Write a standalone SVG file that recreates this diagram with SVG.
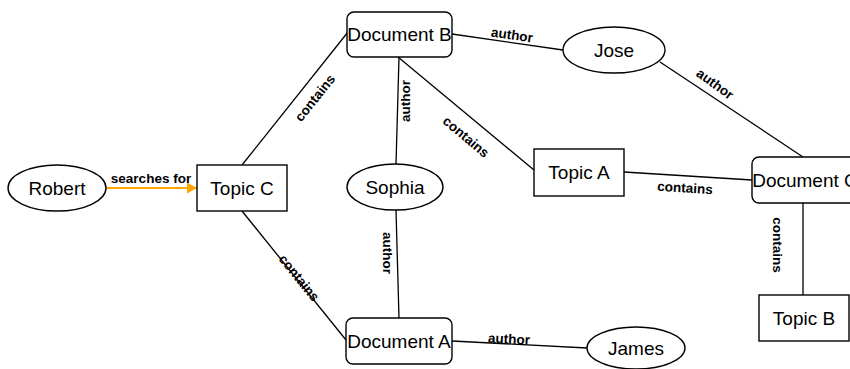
<svg xmlns="http://www.w3.org/2000/svg" width="850" height="369" viewBox="0 0 850 369">
<style>
.n{fill:#fff;stroke:#000;stroke-width:1.4}
.t{font-family:"Liberation Sans",Arial,sans-serif;font-size:19px;fill:#000;text-anchor:middle;dominant-baseline:central}
.e{stroke:#000;stroke-width:1.3;fill:none}
.l{font-family:"Liberation Sans",Arial,sans-serif;font-size:13.5px;font-weight:bold;fill:#000;text-anchor:middle;dominant-baseline:central}
</style>
<defs>
<marker id="ah" markerWidth="10" markerHeight="11" refX="10" refY="5.5" orient="auto" markerUnits="userSpaceOnUse">
<path d="M0,0 L10,5.5 L0,11 Z" fill="#FFA500"/>
</marker>
</defs>
<g id="connectors">
<line class="e" x1="106" y1="188" x2="197" y2="188" style="stroke:#FFA500;stroke-width:2" marker-end="url(#ah)"/>
<text class="l" x="151" y="178">searches for</text>
<line class="e" x1="242" y1="165" x2="348" y2="32"/>
<text class="l" transform="translate(315,98) rotate(-51.5)">contains</text>
<line class="e" x1="242" y1="211" x2="346" y2="340"/>
<text class="l" transform="translate(299,278) rotate(51)">contains</text>
<line class="e" x1="452" y1="34" x2="563" y2="50"/>
<text class="l" transform="translate(512,35) rotate(8)">author</text>
<line class="e" x1="660" y1="62" x2="803" y2="157"/>
<text class="l" transform="translate(715,84) rotate(36)">author</text>
<line class="e" x1="398" y1="57" x2="534" y2="170"/>
<text class="l" transform="translate(466,137) rotate(40)">contains</text>
<line class="e" x1="399" y1="57" x2="396" y2="164"/>
<text class="l" transform="translate(405,101) rotate(-90)">author</text>
<line class="e" x1="396" y1="210" x2="399" y2="318"/>
<text class="l" transform="translate(387,253) rotate(90)">author</text>
<line class="e" x1="452" y1="341" x2="587" y2="348"/>
<text class="l" transform="translate(509,339) rotate(3)">author</text>
<line class="e" x1="624" y1="172" x2="752" y2="180"/>
<text class="l" transform="translate(685,188) rotate(3.5)">contains</text>
<line class="e" x1="803" y1="203" x2="803" y2="295"/>
<text class="l" transform="translate(777,245) rotate(90)">contains</text>
</g>
<g id="robert"><ellipse class="n" cx="57" cy="188" rx="49" ry="23"/><text class="t" x="57" y="188">Robert</text></g>
<g id="topicC"><rect class="n" x="197" y="165" width="90" height="46"/><text class="t" x="242" y="188">Topic C</text></g>
<g id="docB"><rect class="n" x="347" y="12" width="105" height="45" rx="7"/><text class="t" x="399.5" y="34.5">Document B</text></g>
<g id="jose"><ellipse class="n" cx="614" cy="50" rx="51" ry="23"/><text class="t" x="614" y="50">Jose</text></g>
<g id="sophia"><ellipse class="n" cx="395" cy="187" rx="48" ry="23"/><text class="t" x="395" y="187">Sophia</text></g>
<g id="topicA"><rect class="n" x="534" y="149" width="90" height="47"/><text class="t" x="579" y="172.5">Topic A</text></g>
<g id="docC"><rect class="n" x="752" y="157" width="106" height="46" rx="7"/><text class="t" x="805" y="180">Document C</text></g>
<g id="docA"><rect class="n" x="346" y="318" width="106" height="46" rx="7"/><text class="t" x="399" y="341">Document A</text></g>
<g id="james"><ellipse class="n" cx="636" cy="348" rx="49" ry="21"/><text class="t" x="636" y="348">James</text></g>
<g id="topicB"><rect class="n" x="759" y="295" width="90" height="46"/><text class="t" x="804" y="318">Topic B</text></g>
</svg>
